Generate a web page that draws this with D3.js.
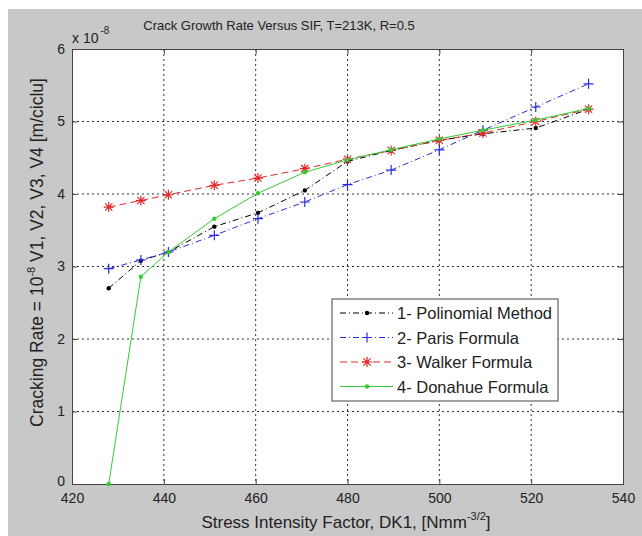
<!DOCTYPE html>
<html><head><meta charset="utf-8">
<script src="https://cdn.jsdelivr.net/npm/d3@7"></script>
<style>
html,body{margin:0;padding:0;background:#fff;}
svg{display:block;font-family:"Liberation Sans",Arial,sans-serif;}
</style></head>
<body>
<svg id="chart" width="642" height="536"></svg>
<script>
const xValues = [428, 435, 441, 451, 460.5, 470.7, 480, 489.5, 500, 509.5, 521, 532.5];
const polinomial = [2.70, 3.08, 3.20, 3.55, 3.74, 4.05, 4.45, 4.60, 4.74, 4.83, 4.91, 5.17];
const paris      = [2.97, 3.09, 3.20, 3.43, 3.66, 3.89, 4.13, 4.33, 4.61, 4.88, 5.20, 5.52];
const walker     = [3.82, 3.91, 3.99, 4.12, 4.22, 4.35, 4.48, 4.60, 4.74, 4.84, 5.00, 5.17];
const donahue    = [0.00, 2.86, 3.20, 3.66, 4.01, 4.30, 4.47, 4.61, 4.76, 4.88, 5.02, 5.18];
const xTicks = [420, 440, 460, 480, 500, 520, 540];
const yTicks = [0, 1, 2, 3, 4, 5, 6];
const seriesNames = ["1- Polinomial Method", "2- Paris Formula", "3- Walker Formula", "4- Donahue Formula"];

const series = [
  {name: seriesNames[0], values: polinomial, color: "#000000", dash: "6,3,1,3", marker: "dot"},
  {name: seriesNames[1], values: paris, color: "#2a2ae0", dash: "6,3,1,3", marker: "plus"},
  {name: seriesNames[2], values: walker, color: "#e02828", dash: "7,4", marker: "star"},
  {name: seriesNames[3], values: donahue, color: "#33cc33", dash: null, marker: "dot"}
];

const svg = d3.select("#chart");
const L = 72, R = 623, T = 49, B = 484;

// figure background
svg.append("rect").attr("x", 8).attr("y", 9).attr("width", 634).attr("height", 527).attr("fill", "#c8c8c8");
svg.append("rect").attr("x", L).attr("y", T).attr("width", R - L).attr("height", B - T).attr("fill", "#fff");

const x = d3.scaleLinear().domain([420, 540]).range([L, R]);
const y = d3.scaleLinear().domain([0, 6]).range([B, T]);

// grid
const grid = svg.append("g");
xTicks.slice(1, -1).forEach(t => {
  grid.append("line").attr("x1", x(t)).attr("x2", x(t)).attr("y1", T).attr("y2", B)
    .attr("stroke", "#333").attr("stroke-width", 1).attr("stroke-dasharray", "2,3");
});
yTicks.slice(1, -1).forEach(t => {
  grid.append("line").attr("x1", L).attr("x2", R).attr("y1", y(t)).attr("y2", y(t))
    .attr("stroke", "#333").attr("stroke-width", 1).attr("stroke-dasharray", "2,3");
});

// axes
const tickFont = 14;
const xAxisB = d3.axisBottom(x).tickValues(xTicks).tickSize(-5).tickPadding(9).tickFormat(d3.format("d"));
const xAxisT = d3.axisTop(x).tickValues(xTicks).tickSize(-5).tickFormat("");
const yAxisL = d3.axisLeft(y).tickValues(yTicks).tickSize(-5).tickPadding(7).tickFormat(d3.format("d"));
const yAxisR = d3.axisRight(y).tickValues(yTicks).tickSize(-5).tickFormat("");
function styleAxis(g) {
  g.select(".domain").attr("stroke", "#444");
  g.selectAll(".tick line").attr("stroke", "#444");
  g.selectAll("text").attr("font-size", tickFont).attr("fill", "#222").attr("font-family", "Liberation Sans, Arial, sans-serif");
}
svg.append("g").attr("transform", `translate(0,${B})`).call(xAxisB).call(styleAxis);
svg.append("g").attr("transform", `translate(0,${T})`).call(xAxisT).call(styleAxis);
const yAxG = svg.append("g").attr("transform", `translate(${L},0)`).call(yAxisL).call(styleAxis);
// MATLAB places the "0" label slightly above the corner
yAxG.selectAll(".tick").filter(d => d === 0).select("text").attr("dy", "0.1em");
svg.append("g").attr("transform", `translate(${R},0)`).call(yAxisR).call(styleAxis);

// exponent label
const expT = svg.append("text").attr("x", 72).attr("y", 43).attr("font-size", 14).attr("fill", "#222");
expT.append("tspan").text("x 10");
expT.append("tspan").attr("dx", 2).attr("dy", -9).attr("font-size", 10).text("-8");

// title
svg.append("text").attr("x", 279).attr("y", 30).attr("text-anchor", "middle")
  .attr("font-size", 13).attr("fill", "#222").text("Crack Growth Rate Versus SIF, T=213K, R=0.5");

// x label
const xl = svg.append("text").attr("x", 346).attr("y", 528).attr("text-anchor", "middle")
  .attr("font-size", 17).attr("fill", "#222");
xl.append("tspan").text("Stress Intensity Factor, DK1,  [Nmm");
xl.append("tspan").attr("dy", -8).attr("font-size", 11).text("-3/2");
xl.append("tspan").attr("dy", 8).text("]");

// y label
const yl = svg.append("text").attr("transform", "translate(43,252.5) rotate(-90)").attr("text-anchor", "middle")
  .attr("font-size", 17.5).attr("fill", "#222");
yl.append("tspan").text("Cracking Rate = 10");
yl.append("tspan").attr("dy", -8).attr("font-size", 11).text("-8");
yl.append("tspan").attr("dy", 8).text(" V1, V2, V3, V4 [m/ciclu]");

// markers
function drawMarker(g, type, cx, cy, color) {
  if (type === "dot") {
    g.append("circle").attr("cx", cx).attr("cy", cy).attr("r", 2.2).attr("fill", color);
  } else if (type === "plus") {
    const s = 5;
    g.append("path").attr("d", `M${cx - s},${cy}H${cx + s}M${cx},${cy - s}V${cy + s}`)
      .attr("stroke", color).attr("stroke-width", 1.2);
  } else if (type === "star") {
    const s = 5, d = 3.6;
    g.append("path").attr("d", `M${cx - s},${cy}H${cx + s}M${cx},${cy - s}V${cy + s}M${cx - d},${cy - d}L${cx + d},${cy + d}M${cx - d},${cy + d}L${cx + d},${cy - d}`)
      .attr("stroke", color).attr("stroke-width", 1.2);
  }
}

const line = d3.line().x((d, i) => x(xValues[i])).y(d => y(d));
const plot = svg.append("g");
series.forEach(s => {
  const p = plot.append("path").datum(s.values).attr("d", line)
    .attr("fill", "none").attr("stroke", s.color).attr("stroke-width", 1);
  if (s.dash) p.attr("stroke-dasharray", s.dash);
  s.values.forEach((v, i) => drawMarker(plot, s.marker, x(xValues[i]), y(v), s.color));
});

// legend
const lg = svg.append("g");
lg.append("rect").attr("x", 332).attr("y", 299).attr("width", 226).attr("height", 102)
  .attr("fill", "#fff").attr("stroke", "#444").attr("stroke-width", 1);
series.forEach((s, i) => {
  const ly = 313 + i * 24.5;
  const l = lg.append("line").attr("x1", 340).attr("x2", 393).attr("y1", ly).attr("y2", ly)
    .attr("stroke", s.color).attr("stroke-width", 1);
  if (s.dash) l.attr("stroke-dasharray", s.dash);
  drawMarker(lg, s.marker, 367, ly, s.color);
  lg.append("text").attr("x", 397).attr("y", ly + 6).attr("font-size", 16.5).attr("fill", "#222").text(s.name);
});
</script>
</body></html>
